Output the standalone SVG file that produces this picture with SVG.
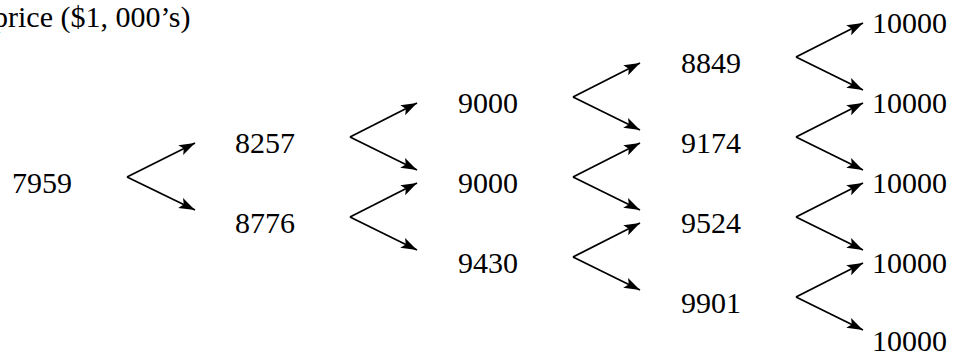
<svg xmlns="http://www.w3.org/2000/svg" width="953" height="354" viewBox="0 0 953 354">
<style>
text{font-family:"Liberation Serif","DejaVu Serif",serif;font-size:30px;fill:#000}
.c path{fill:none;stroke:#000;stroke-width:1.8;marker-end:url(#ah)}
</style>
<defs>
<marker id="ah" markerUnits="userSpaceOnUse" markerWidth="18" markerHeight="12" refX="16" refY="5.5" orient="auto">
<path d="M0,0 L16,5.5 L0,11 L3.5,5.5 z" fill="#000"/>
</marker>
</defs>
<rect width="953" height="354" fill="#fff"/>
<text id="title" x="-7" y="27">price ($1, 000’s)</text>
<g id="n0"><text x="12" y="193">7959</text></g>
<g id="n1a"><text x="235" y="153">8257</text></g>
<g id="n1b"><text x="235" y="233">8776</text></g>
<g id="n2a"><text x="458" y="113">9000</text></g>
<g id="n2b"><text x="458" y="193">9000</text></g>
<g id="n2c"><text x="458" y="273">9430</text></g>
<g id="n3a"><text x="681" y="73">8849</text></g>
<g id="n3b"><text x="681" y="153">9174</text></g>
<g id="n3c"><text x="681" y="233">9524</text></g>
<g id="n3d"><text x="681" y="313">9901</text></g>
<g id="n4a"><text x="872" y="33">10000</text></g>
<g id="n4b"><text x="872" y="113">10000</text></g>
<g id="n4c"><text x="872" y="193">10000</text></g>
<g id="n4d"><text x="872" y="273">10000</text></g>
<g id="n4e"><text x="872" y="351">10000</text></g>
<g id="connectors" class="c">
<path d="M127,177 L195,143"/><path d="M127,177 L195,210"/>
<path d="M350,137 L417,103"/><path d="M350,137 L417,170"/>
<path d="M350,217 L417,183"/><path d="M350,217 L417,250"/>
<path d="M573,97 L640,63"/><path d="M573,97 L640,130"/>
<path d="M573,177 L640,143"/><path d="M573,177 L640,210"/>
<path d="M573,257 L640,223"/><path d="M573,257 L640,290"/>
<path d="M796,57 L863,23"/><path d="M796,57 L863,90"/>
<path d="M796,137 L863,103"/><path d="M796,137 L863,170"/>
<path d="M796,217 L863,183"/><path d="M796,217 L863,250"/>
<path d="M796,297 L863,263"/><path d="M796,297 L863,330"/>
</g>
</svg>
